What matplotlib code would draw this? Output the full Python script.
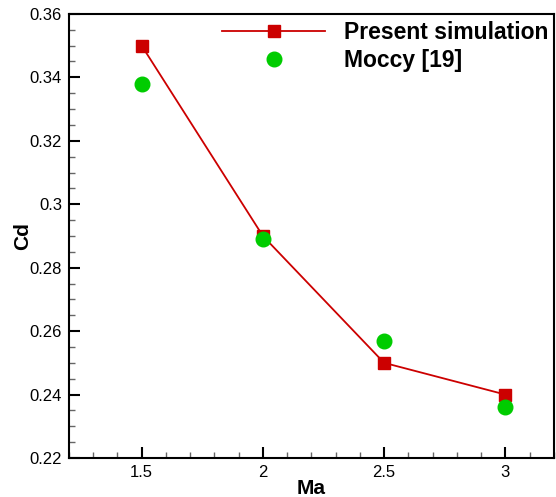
import numpy as np
import matplotlib.pyplot as plt
from matplotlib.ticker import MultipleLocator

plt.rcParams['font.family'] = ['Liberation Sans', 'DejaVu Sans']

# datos
ma = [1.5, 2.0, 2.5, 3.0]
cd_present = [0.350, 0.290, 0.250, 0.240]
cd_moccy = [0.338, 0.289, 0.257, 0.236]

fig = plt.figure(figsize=(5.56, 4.97), dpi=100)
ax = fig.add_axes([0.124, 0.0785, 0.872, 0.8935])

ax.plot(ma, cd_present, color='#cc0000', lw=1.3, marker='s', ms=9,
        label='Present simulation')
ax.plot(ma, cd_moccy, ls='none', marker='o', ms=10.5, color='#00cc00',
        label='Moccy [19]')

ax.set_xlim(1.2, 3.2)
ax.set_ylim(0.22, 0.36)
ax.xaxis.set_major_locator(MultipleLocator(0.5))
ax.xaxis.set_minor_locator(MultipleLocator(0.1))
ax.yaxis.set_major_locator(MultipleLocator(0.02))
ax.yaxis.set_minor_locator(MultipleLocator(0.005))
ax.xaxis.set_major_formatter(plt.FuncFormatter(lambda v, p: f'{v:g}'))
ax.yaxis.set_major_formatter(plt.FuncFormatter(lambda v, p: f'{v:g}'))

ax.tick_params(which='both', direction='in', top=False, right=False,
               labelsize=12, pad=5)
ax.tick_params(which='major', length=8, width=1.5)
ax.tick_params(which='minor', length=4.5, width=1, color='#666666')
for s in ax.spines.values():
    s.set_linewidth(1.5)

ax.set_xlabel('Ma', fontsize=15, fontweight='bold')
ax.set_ylabel('Cd', fontsize=15, fontweight='bold')
ax.xaxis.set_label_coords(0.5, -0.047)
ax.yaxis.set_label_coords(-0.076, 0.5)

ax.legend(loc='upper right', bbox_to_anchor=(1.0, 0.996), frameon=False,
          prop={'size': 16.5, 'weight': 'bold'},
          handlelength=4.5, handletextpad=0.8, borderaxespad=0.0,
          borderpad=0.25, labelspacing=0.2)

fig.savefig('out.png', dpi=100)
